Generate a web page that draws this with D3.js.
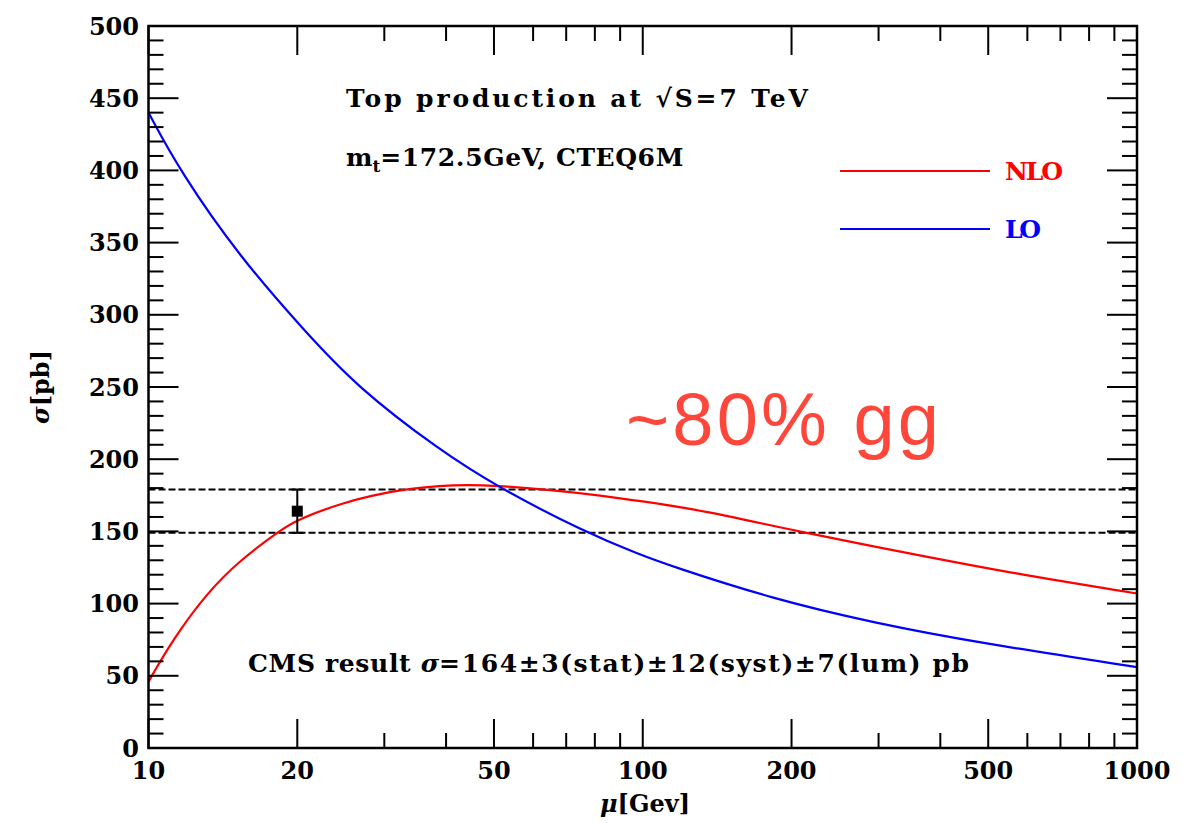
<!DOCTYPE html>
<html><head><meta charset="utf-8">
<script src="https://cdn.jsdelivr.net/npm/d3@7"></script>
<style>body{margin:0;background:#fff}</style>
</head><body><svg id="c" width="1198" height="823"></svg>
<script>
// ---- data ----
const nloMu    = [10, 11.2, 13.1, 15.3, 18.5, 20, 24.4, 31.8, 42, 50.7, 64, 82, 99, 133, 205, 350, 560, 1000];
const nloSigma = [46, 75, 107, 130, 151, 158, 169.5, 179, 182.6, 181.7, 179, 175, 171, 164.5, 150, 134.5, 121, 107];
const loMu     = [10, 11.6, 15.3, 20.6, 26.4, 38.9, 50.7, 76, 99, 113, 182, 295, 480, 1000];
const loSigma  = [440, 399, 340, 289.5, 250, 206, 181, 149.8, 133.7, 126.5, 103.5, 86.5, 72.8, 56];
const cmsMu = [20];
const cmsSigma = [164];
const cmsErr = [15];
const bandLevels = [149, 179];
const xTickLabels = [10, 20, 50, 100, 200, 500, 1000];
const xMinorTicks = [30, 40, 60, 70, 80, 90, 300, 400, 600, 700, 800, 900];
const yTickLabels = [0, 50, 100, 150, 200, 250, 300, 350, 400, 450, 500];
const yMinorTicks = d3.range(0, 501, 10).filter(v => v % 50 !== 0);
const legendNames = ["NLO", "LO"];

// ---- layout ----
const L = 148.5, R = 1137, T = 26, B = 748;
const serif = "'DejaVu Serif', 'Liberation Serif', serif";
const svg = d3.select("#c");
const x = d3.scaleLog().domain([10, 1000]).range([L, R]);
const y = d3.scaleLinear().domain([0, 500]).range([B, T]);

function txt(sel, size) {
  return sel.attr("font-family", serif).attr("font-size", size).attr("font-weight", "bold");
}

// dashed band lines
svg.selectAll("line.band").data(bandLevels).enter().append("line")
  .attr("x1", L).attr("x2", R).attr("y1", d => y(d)).attr("y2", d => y(d))
  .attr("stroke", "#000").attr("stroke-width", 2).attr("stroke-dasharray", "7,3");

// curves
const line = d3.line().x(d => x(d[0])).y(d => y(d[1])).curve(d3.curveBasis);
svg.append("path").datum(nloMu.map((m, i) => [m, nloSigma[i]]))
  .attr("d", line).attr("fill", "none").attr("stroke", "#ff0000").attr("stroke-width", 2.2);
svg.append("path").datum(loMu.map((m, i) => [m, loSigma[i]]))
  .attr("d", line).attr("fill", "none").attr("stroke", "#0000ff").attr("stroke-width", 2.2);

// CMS point with error bar
cmsMu.forEach((m, i) => {
  const cx = x(m);
  svg.append("line").attr("x1", cx).attr("x2", cx)
    .attr("y1", y(cmsSigma[i] - cmsErr[i])).attr("y2", y(cmsSigma[i] + cmsErr[i]))
    .attr("stroke", "#000").attr("stroke-width", 2);
  [cmsSigma[i] - cmsErr[i], cmsSigma[i] + cmsErr[i]].forEach(v =>
    svg.append("line").attr("x1", cx - 6).attr("x2", cx + 6).attr("y1", y(v)).attr("y2", y(v))
      .attr("stroke", "#000").attr("stroke-width", 2));
  svg.append("rect").attr("x", cx - 5.5).attr("y", y(cmsSigma[i]) - 5.5)
    .attr("width", 11).attr("height", 11).attr("fill", "#000");
});

// axes with inward ticks on all four sides
function ticksX(vals, len, cls) {
  svg.selectAll("line." + cls + "b").data(vals).enter().append("line")
    .attr("x1", d => x(d)).attr("x2", d => x(d)).attr("y1", B).attr("y2", B - len)
    .attr("stroke", "#000").attr("stroke-width", 2);
  svg.selectAll("line." + cls + "t").data(vals).enter().append("line")
    .attr("x1", d => x(d)).attr("x2", d => x(d)).attr("y1", T).attr("y2", T + len)
    .attr("stroke", "#000").attr("stroke-width", 2);
}
function ticksY(vals, len, cls) {
  svg.selectAll("line." + cls + "l").data(vals).enter().append("line")
    .attr("x1", L).attr("x2", L + len).attr("y1", d => y(d)).attr("y2", d => y(d))
    .attr("stroke", "#000").attr("stroke-width", 2);
  svg.selectAll("line." + cls + "r").data(vals).enter().append("line")
    .attr("x1", R).attr("x2", R - len).attr("y1", d => y(d)).attr("y2", d => y(d))
    .attr("stroke", "#000").attr("stroke-width", 2);
}
ticksX(xTickLabels, 29, "xM");
ticksX(xMinorTicks, 15, "xm");
ticksY(yTickLabels, 30, "yM");
ticksY(yMinorTicks, 15, "ym");

svg.append("rect").attr("x", L).attr("y", T).attr("width", R - L).attr("height", B - T)
  .attr("fill", "none").attr("stroke", "#000").attr("stroke-width", 2.5);

// tick labels
txt(svg.selectAll("text.xl").data(xTickLabels).enter().append("text"), 24)
  .attr("x", d => x(d)).attr("y", 779).attr("text-anchor", "middle")
  .text(d => d);
txt(svg.selectAll("text.yl").data(yTickLabels).enter().append("text"), 24)
  .attr("x", 139).attr("y", d => y(d)).attr("dy", "0.36em").attr("text-anchor", "end")
  .text(d => d);

// axis titles
const xt = txt(svg.append("text"), 24).attr("x", 645).attr("y", 812).attr("text-anchor", "middle");
xt.append("tspan").attr("font-style", "italic").text("μ");
xt.append("tspan").text("[Gev]");
const yt = txt(svg.append("text"), 24).attr("transform", "translate(49,387) rotate(-90)").attr("text-anchor", "middle");
yt.append("tspan").attr("font-style", "italic").text("σ");
yt.append("tspan").text("[pb]");

// annotations
txt(svg.append("text"), 25).attr("x", 346).attr("y", 107)
  .attr("textLength", 462).attr("lengthAdjust", "spacing")
  .text("Top production at √S=7 TeV");
const mt = txt(svg.append("text"), 25).attr("x", 346).attr("y", 166);
mt.append("tspan").text("m");
mt.append("tspan").attr("font-size", 17).attr("dy", 6).text("t");
mt.append("tspan").attr("dy", -6).attr("textLength", 303).attr("lengthAdjust", "spacing")
  .text("=172.5GeV, CTEQ6M");

const cms = txt(svg.append("text"), 25).attr("x", 248).attr("y", 672);
cms.append("tspan").attr("textLength", 172).attr("lengthAdjust", "spacing").text("CMS result ");
cms.append("tspan").attr("font-style", "italic").text("σ");
cms.append("tspan").attr("textLength", 530).attr("lengthAdjust", "spacing").text("=164±3(stat)±12(syst)±7(lum) pb");

svg.append("text").attr("x", 626).attr("y", 445)
  .attr("font-family", "'Liberation Sans', Arial, sans-serif").attr("font-size", 74)
  .attr("textLength", 313).attr("lengthAdjust", "spacing")
  .attr("fill", "#ff463a").text("~80% gg");

// legend
const legColors = ["#ff0000", "#0000ff"];
const legY = [171, 229];
const legLen = [58, 36];
legendNames.forEach((n, i) => {
  svg.append("line").attr("x1", 840).attr("x2", 990).attr("y1", legY[i]).attr("y2", legY[i])
    .attr("stroke", legColors[i]).attr("stroke-width", 2.2);
  txt(svg.append("text"), 25).attr("x", 1005).attr("y", legY[i]).attr("dy", "0.36em")
    .attr("fill", legColors[i])
    .attr("textLength", legLen[i]).attr("lengthAdjust", "spacing").text(n);
});
</script></body></html>
